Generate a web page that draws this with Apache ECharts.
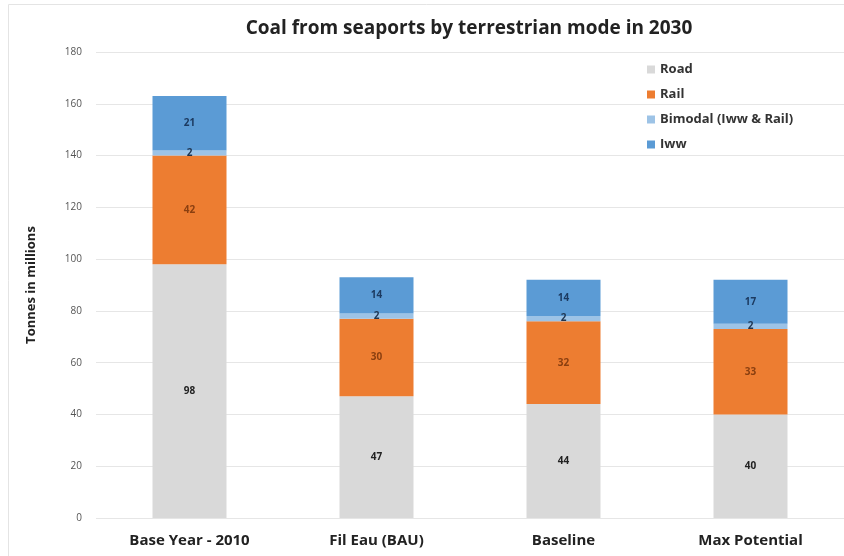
<!DOCTYPE html>
<html>
<head>
<meta charset="utf-8">
<script src="https://cdn.jsdelivr.net/npm/echarts@6/dist/echarts.min.js"></script>
<style>
  html, body { margin: 0; padding: 0; background: #fff; }
  #chart { width: 844px; height: 556px; }
</style>
</head>
<body>
<div id="chart"></div>
<script>
// Coal tonnage from seaports split by inland transport mode (million tonnes)
const categories = ['Base Year - 2010', 'Fil Eau (BAU)', 'Baseline', 'Max Potential'];
const road = [98, 47, 44, 40];
const rail = [42, 30, 32, 33];
const bimodal = [2, 2, 2, 2];
const iww = [21, 14, 14, 17];
const yTicks = [0, 20, 40, 60, 80, 100, 120, 140, 160, 180];

const FONT = '"Open Sans", Lato, sans-serif';

function stackSeries(name, data, color, labelColor) {
  return {
    name: name,
    type: 'bar',
    stack: 'total',
    data: data,
    barWidth: 74,
    itemStyle: { color: color },
    label: {
      show: true,
      position: 'inside',
      color: labelColor,
      fontSize: 10,
      fontFamily: FONT,
      fontWeight: 'bold'
    }
  };
}

const chart = echarts.init(document.getElementById('chart'), null, { renderer: 'canvas' });
chart.setOption({
  backgroundColor: '#fff',
  animation: false,
  graphic: [{
    // light outer frame of the chart area
    type: 'rect',
    shape: { x: 8.5, y: 4.5, width: 850, height: 560 },
    style: { fill: 'none', stroke: '#e4e4e4', lineWidth: 1 },
    silent: true
  }],
  title: {
    text: 'Coal from seaports by terrestrian mode in 2030',
    left: 464,
    textAlign: 'center',
    top: 14,
    textStyle: { fontFamily: FONT, fontSize: 19, fontWeight: 'bold', color: '#222' }
  },
  legend: {
    orient: 'vertical',
    left: 642,
    top: 58,
    itemWidth: 8,
    itemHeight: 8,
    itemGap: 12,
    icon: 'rect',
    textStyle: { fontFamily: FONT, fontSize: 13, fontWeight: 'bold', color: '#333' },
    data: ['Road', 'Rail', 'Bimodal (Iww & Rail)', 'Iww']
  },
  grid: { left: 96, right: 0, top: 52, bottom: 38 },
  xAxis: {
    type: 'category',
    data: categories,
    axisLine: { show: false },
    axisTick: { show: false },
    axisLabel: { fontFamily: FONT, fontSize: 15, fontWeight: 'bold', color: '#222', margin: 15 }
  },
  yAxis: {
    type: 'value',
    min: yTicks[0],
    max: yTicks[yTicks.length - 1],
    interval: yTicks[1] - yTicks[0],
    name: 'Tonnes in millions',
    nameLocation: 'middle',
    nameGap: 58,
    nameTextStyle: { fontFamily: FONT, fontSize: 13, fontWeight: 'bold', color: '#222' },
    axisLabel: { fontFamily: FONT, fontSize: 10, color: '#555', margin: 14 },
    splitLine: { lineStyle: { color: '#e6e6e6', width: 1 } },
    axisLine: { show: false },
    axisTick: { show: false }
  },
  series: [
    stackSeries('Road', road, '#D9D9D9', '#222'),
    stackSeries('Rail', rail, '#ED7D31', '#8a3f10'),
    stackSeries('Bimodal (Iww & Rail)', bimodal, '#9DC3E6', '#1f3550'),
    stackSeries('Iww', iww, '#5B9BD5', '#1c3a60')
  ]
});
</script>
</body>
</html>
